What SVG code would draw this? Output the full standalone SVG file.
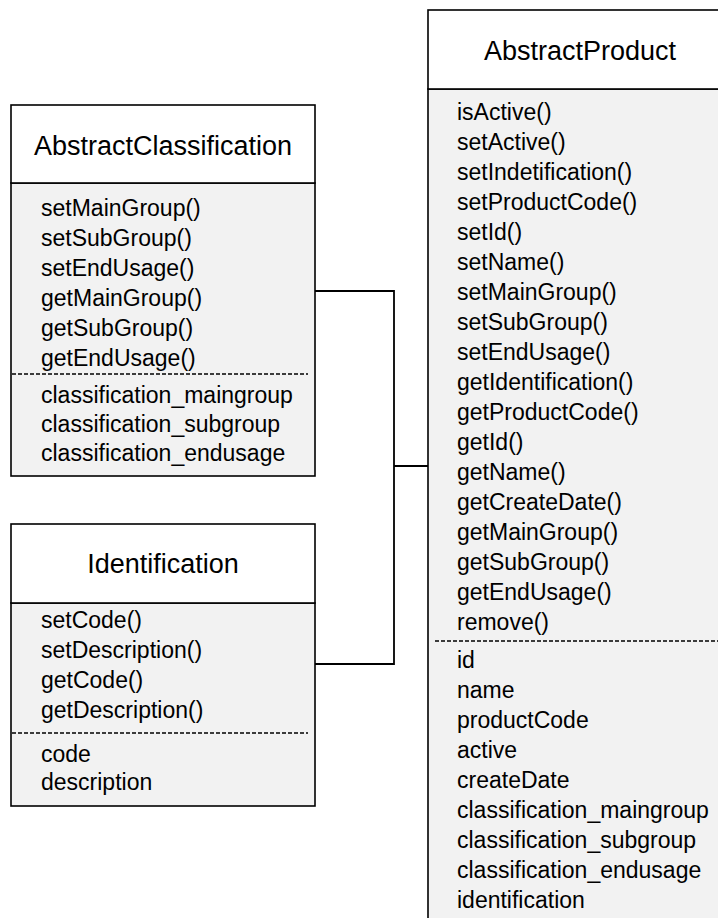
<svg xmlns="http://www.w3.org/2000/svg" width="718" height="918" viewBox="0 0 718 918">
  <style>
    .hdr { fill: #ffffff; stroke: #000000; stroke-width: 1.6; }
    .body { fill: #f2f2f2; stroke: #000000; stroke-width: 1.6; }
    .sep { stroke: #000000; stroke-width: 1.5; stroke-dasharray: 4 2; fill: none; }
    .title { font-family: "Liberation Sans", Arial, sans-serif; font-size: 27px; fill: #000000; text-anchor: middle; }
    .item { font-family: "Liberation Sans", Arial, sans-serif; font-size: 23px; fill: #000000; }
    .link { fill: none; stroke: #000000; stroke-width: 1.8; }
  </style>

  <rect width="718" height="918" fill="#ffffff"/>

  <!-- connectors -->
  <g id="connectors">
    <polyline class="link" points="315,291 394,291 394,664 315,664"/>
    <line class="link" x1="394" y1="466" x2="428" y2="466"/>
  </g>

  <!-- AbstractClassification -->
  <g id="abstract-classification">
    <rect class="body" x="11" y="183" width="304" height="293"/>
    <rect class="hdr" x="11" y="105" width="304" height="78"/>
    <text class="title" x="163" y="155">AbstractClassification</text>
    <g class="item">
      <text x="41" y="216">setMainGroup()</text>
      <text x="41" y="246">setSubGroup()</text>
      <text x="41" y="276">setEndUsage()</text>
      <text x="41" y="306">getMainGroup()</text>
      <text x="41" y="336">getSubGroup()</text>
      <text x="41" y="366">getEndUsage()</text>
    </g>
    <line class="sep" x1="12" y1="374" x2="308" y2="374"/>
    <g class="item">
      <text x="41" y="403">classification_maingroup</text>
      <text x="41" y="432">classification_subgroup</text>
      <text x="41" y="461">classification_endusage</text>
    </g>
  </g>

  <!-- Identification -->
  <g id="identification">
    <rect class="body" x="11" y="603" width="304" height="203"/>
    <rect class="hdr" x="11" y="524" width="304" height="79"/>
    <text class="title" x="163" y="573">Identification</text>
    <g class="item">
      <text x="41" y="628">setCode()</text>
      <text x="41" y="658">setDescription()</text>
      <text x="41" y="688">getCode()</text>
      <text x="41" y="718">getDescription()</text>
    </g>
    <line class="sep" x1="12" y1="733" x2="308" y2="733"/>
    <g class="item">
      <text x="41" y="762">code</text>
      <text x="41" y="790">description</text>
    </g>
  </g>

  <!-- AbstractProduct -->
  <g id="abstract-product">
    <rect class="body" x="428" y="89" width="320" height="850"/>
    <rect class="hdr" x="428" y="10" width="320" height="79"/>
    <text class="title" x="580" y="60">AbstractProduct</text>
    <g class="item">
      <text x="457" y="120">isActive()</text>
      <text x="457" y="150">setActive()</text>
      <text x="457" y="180">setIndetification()</text>
      <text x="457" y="210">setProductCode()</text>
      <text x="457" y="240">setId()</text>
      <text x="457" y="270">setName()</text>
      <text x="457" y="300">setMainGroup()</text>
      <text x="457" y="330">setSubGroup()</text>
      <text x="457" y="360">setEndUsage()</text>
      <text x="457" y="390">getIdentification()</text>
      <text x="457" y="420">getProductCode()</text>
      <text x="457" y="450">getId()</text>
      <text x="457" y="480">getName()</text>
      <text x="457" y="510">getCreateDate()</text>
      <text x="457" y="540">getMainGroup()</text>
      <text x="457" y="570">getSubGroup()</text>
      <text x="457" y="600">getEndUsage()</text>
      <text x="457" y="630">remove()</text>
    </g>
    <line class="sep" x1="435" y1="641" x2="718" y2="641"/>
    <g class="item">
      <text x="457" y="668">id</text>
      <text x="457" y="698">name</text>
      <text x="457" y="728">productCode</text>
      <text x="457" y="758">active</text>
      <text x="457" y="788">createDate</text>
      <text x="457" y="818">classification_maingroup</text>
      <text x="457" y="848">classification_subgroup</text>
      <text x="457" y="878">classification_endusage</text>
      <text x="457" y="908">identification</text>
    </g>
  </g>
</svg>
